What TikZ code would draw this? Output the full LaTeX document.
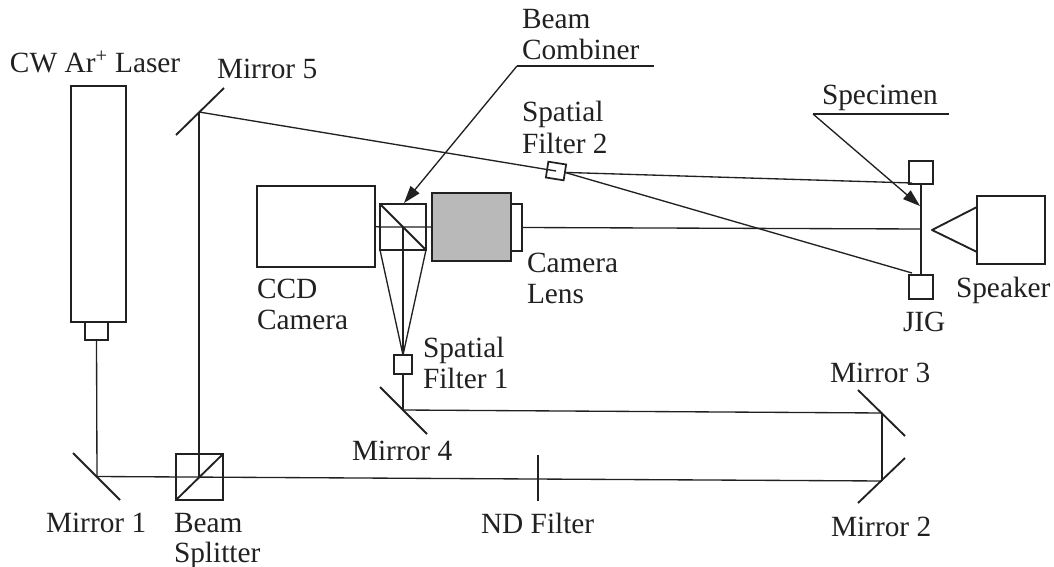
\documentclass[tikz,border=0pt]{standalone}
\usepackage{fontspec}
\setmainfont{Liberation Serif}
\usetikzlibrary{arrows.meta}
\definecolor{ink}{gray}{0.13}
\tikzset{
  beam/.style={draw=ink,line width=1pt},
  mirror/.style={draw=ink,line width=1.4pt},
  leader/.style={draw=ink,line width=1pt},
  pointer/.style={leader,-{Triangle[length=13pt,width=8.5pt]}},
  box/.style={draw=ink,line width=1.6pt,inner sep=0pt,outer sep=0pt},
  lab/.style={anchor=base west,inner sep=0pt,outer sep=0pt,text=ink,font=\fontsize{22}{22}\selectfont},
  bw/.style={minimum width=#1*0.75pt},
  bh/.style={minimum height=#1*0.75pt}
}
\begin{document}
\begin{tikzpicture}[x=0.75pt,y=-0.75pt]
\useasboundingbox[fill=white] (0,0) rectangle (1054,567);
% named points
\coordinate (m1) at (97,476.5);
\coordinate (m1a) at (73,453); \coordinate (m1b) at (120,500);
\coordinate (m2) at (882,481);
\coordinate (m2a) at (858,503); \coordinate (m2b) at (905,458);
\coordinate (m3) at (882,413);
\coordinate (m3a) at (858,390); \coordinate (m3b) at (905,436);
\coordinate (m4) at (403,410);
\coordinate (m4a) at (380,387); \coordinate (m4b) at (427,434);
\coordinate (m5) at (199,112);
\coordinate (m5a) at (176,135); \coordinate (m5b) at (224,88);
\coordinate (nda) at (538,455); \coordinate (ndb) at (538,501);
\coordinate (bs) at (199,477);
\coordinate (lead1a) at (654,66); \coordinate (lead1b) at (517,66); \coordinate (lead1c) at (404,203);
\coordinate (lead2a) at (949,114); \coordinate (lead2b) at (813,114); \coordinate (lead2c) at (920,206);
\coordinate (spa) at (921,184); \coordinate (spb) at (921,275);
\coordinate (spm) at (921,229);
\coordinate (sa) at (977,207); \coordinate (st) at (932,230); \coordinate (sb) at (977,252);
\coordinate (ja) at (912,183); \coordinate (jb) at (912,273);
% boxes
\node[box,bw=55,bh=236] (laser) at (98.5,204) {};
\node[box,bw=23,bh=18] (lasernub) at (96.5,331) {};
\node[box,bw=47,bh=46] (splitter) at (199.5,477) {};
\node[box,bw=118,bh=81] (ccd) at (316,226.5) {};
\node[box,bw=46,bh=46] (combiner) at (403,227) {};
\node[box,line width=2pt,fill=gray!55,bw=79,bh=68] (lens) at (471.5,227) {};
\node[box,bw=11,bh=47] (lensnub) at (516.5,227.5) {};
\node[box,bw=18,bh=19] (sf1) at (403,364.5) {};
\node[box,line width=1.3pt,bw=18,bh=16,rotate=-9] (sf2) at (556,171) {};
\node[box,bw=24,bh=23] (jigt) at (921,172.5) {};
\node[box,bw=24,bh=24] (jigb) at (921,287) {};
\node[box,bw=68,bh=68] (speaker) at (1011,230) {};
% splitter internals
\draw[mirror] (splitter.south west) -- (splitter.north east);
\draw[mirror] (combiner.north west) -- (combiner.south east);
% mirrors
\draw[mirror] (m1a) -- (m1b);
\draw[mirror] (m2a) -- (m2b);
\draw[mirror] (m3a) -- (m3b);
\draw[mirror] (m4a) -- (m4b);
\draw[mirror] (m5a) -- (m5b);
\draw[mirror] (nda) -- (ndb);
% beams
\draw[beam] (lasernub.south) -- (m1);
\draw[beam] (m1) -- (m2);
\draw[beam] (m2) -- (m3);
\draw[beam] (m3) -- (m4);
\draw[beam] (m4) -- (sf1.south);
\draw[beam] (sf1.north) -- (combiner.south west);
\draw[beam] (sf1.north) -- (combiner.south east);
\draw[beam] (sf1.north) -- (combiner.center);
\draw[beam] (bs) -- (m5);
\draw[beam] (m5) -- (sf2.center);
\draw[beam] (sf2.east) -- (ja);
\draw[beam] (sf2.east) -- (jb);
\draw[beam] (ccd.east) -- (combiner.west) -- (lens.west);
\draw[beam] (lensnub.east) -- (spm);
% specimen & speaker
\draw[mirror] (spa) -- (spb);
\draw[mirror,line join=round] (sa) -- (st) -- (sb);
% leaders
\draw[leader] (lead1a) -- (lead1b);
\draw[pointer] (lead1b) -- (lead1c);
\draw[leader] (lead2a) -- (lead2b);
\draw[pointer] (lead2b) -- (lead2c);
% labels
\node[lab] (tlaser) at (10,73) {CW Ar\textsuperscript{+} Laser};
\node[lab] (tm5) at (217,79) {Mirror 5};
\node[lab] (tbc1) at (522,29) {Beam};
\node[lab] (tbc2) at (522,60) {Combiner};
\node[lab] (tsf2a) at (522,122) {Spatial};
\node[lab] (tsf2b) at (522,153) {Filter 2};
\node[lab] (tspec) at (822,105) {Specimen};
\node[lab] (tcl1) at (527,272) {Camera};
\node[lab] (tcl2) at (527,303) {Lens};
\node[lab] (tccd1) at (257,298) {CCD};
\node[lab] (tccd2) at (257,329) {Camera};
\node[lab] (tspk) at (956,297) {Speaker};
\node[lab] (tjig) at (903,331) {JIG};
\node[lab] (tsf1a) at (423,357) {Spatial};
\node[lab] (tsf1b) at (423,388) {Filter 1};
\node[lab] (tm3) at (830,382) {Mirror 3};
\node[lab] (tm4) at (352,460) {Mirror 4};
\node[lab] (tm1) at (46,532) {Mirror 1};
\node[lab] (tbs1) at (174,532) {Beam};
\node[lab] (tbs2) at (174,562) {Splitter};
\node[lab] (tnd) at (481,533) {ND Filter};
\node[lab] (tm2) at (831,536) {Mirror 2};
\end{tikzpicture}
\end{document}
